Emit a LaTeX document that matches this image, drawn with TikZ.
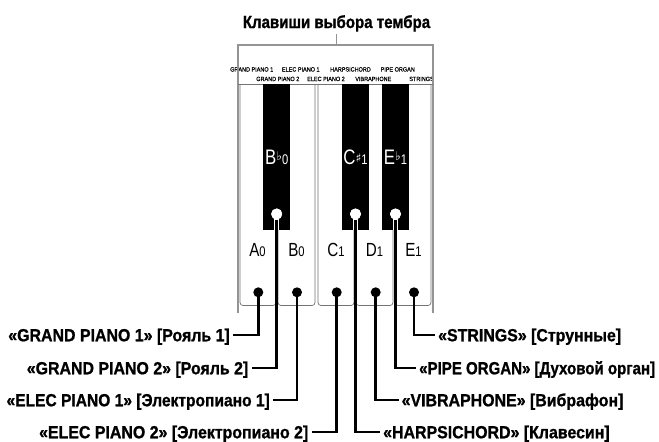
\documentclass[tikz,border=0pt]{standalone}
\usepackage{fontspec}
\setmainfont{Liberation Sans}
\newfontfamily\keyfont[FakeStretch=0.8]{Liberation Sans}
\newfontfamily\lblfont[UprightFont={* Bold},FakeStretch=0.91,FakeBold=1]{Liberation Sans}
\newfontfamily\lblfontm[UprightFont={* Bold},FakeStretch=0.89,FakeBold=1]{Liberation Sans}
\newfontfamily\lblfontn[UprightFont={* Bold},FakeStretch=0.86,FakeBold=1]{Liberation Sans}
\newfontfamily\smallfont[FakeStretch=0.9,FakeBold=0.4]{Liberation Sans}
\newfontfamily\symfont{DejaVu Sans}
\newcommand\kname[4]{{\keyfont\fontsize{#4}{#4}\selectfont #1}#2{\keyfont\fontsize{14}{14}\selectfont #3}}
\newcommand\flatsym{\raisebox{3.5pt}{\symfont\fontsize{12}{12}\selectfont ♭}}
\newcommand\sharpsym{\raisebox{1.5pt}{\symfont\fontsize{12}{12}\selectfont ♯}}
\begin{document}
\begin{tikzpicture}[x=1pt,y=-1pt,
  frame/.style={draw=black!42, line width=1.8pt},
  keyline/.style={draw=black!55, line width=0.7pt},
  conn/.style={draw=black, line width=2.8pt},
  halo/.style={draw=white, line width=5.5pt},
  dot/.style={circle, fill=black, minimum size=10pt, inner sep=0pt},
  hole/.style={circle, fill=white, minimum size=11pt, inner sep=0pt},
  lbl/.style={font=\lblfont\fontsize{17.5}{20}\selectfont, inner xsep=3pt, inner ysep=0pt, text height=12.5pt, text depth=0pt},
  lblm/.style={lbl, font=\lblfontm\fontsize{17.5}{20}\selectfont},
  lbln/.style={lbl, font=\lblfontn\fontsize{17.5}{20}\selectfont},
  small/.style={font=\smallfont\fontsize{6.1}{7}\selectfont, inner sep=0pt, anchor=base},
  keylbl/.style={inner sep=0pt, anchor=base},
  titlestyle/.style={font=\lblfontn\fontsize{17.5}{20}\selectfont, inner sep=2pt, anchor=base}
]
\useasboundingbox (0,0) rectangle (659,442);
\fill[white] (0,0) rectangle (659,442);

% title
\node[titlestyle] (title) at (336.5,28) {Клавиши выбора тембра};
\coordinate (tickb) at (336.5,45);

% small labels
\node[small] (s1) at (251.7,71.5) {GRAND PIANO 1};
\node[small] (s2) at (300.8,71.5) {ELEC PIANO 1};
\node[small] (s3) at (350.5,71.5) {HARPSICHORD};
\node[small] (s4) at (397.7,71.5) {PIPE ORGAN};
\node[small] (s5) at (277.8,81) {GRAND PIANO 2};
\node[small] (s6) at (326,81) {ELEC PIANO 2};
\node[small] (s7) at (373.3,81) {VIBRAPHONE};
\node[small] (s8) at (421.5,81) {STRINGS};

% frame
\draw[frame] (238,313) -- (238,45) -- (433,45) -- (433,313);
\draw[frame] (title.south) -- (tickb);

% white keys
\draw[keyline] (238,84) -- (433,84);
\draw[keyline, rounded corners=3pt] (240,84) -- (240,305.5) -- (276,305.5) -- (276,84);
\draw[keyline, rounded corners=3pt] (278,84) -- (278,305.5) -- (315,305.5) -- (315,84);
\draw[keyline, rounded corners=3pt] (318,84) -- (318,305.5) -- (354,305.5) -- (354,84);
\draw[keyline, rounded corners=3pt] (356,84) -- (356,305.5) -- (393,305.5) -- (393,84);
\draw[keyline, rounded corners=3pt] (395,84) -- (395,305.5) -- (431,305.5) -- (431,84);

% black keys
\fill[black] (263.3,84) rectangle (290,230);
\fill[black] (342.3,84) rectangle (369,230);
\fill[black] (382.3,84) rectangle (409,230);

% key labels
\node[keylbl, text=white] (kBb) at (276.7,164) {\kname{B}{\flatsym}{0}{21}};
\node[keylbl, text=white] (kCs) at (355.5,164) {\kname{C}{\sharpsym}{1}{21}};
\node[keylbl, text=white] (kEb) at (395.5,164) {\kname{E}{\flatsym}{1}{21}};
\node[keylbl] (kA) at (257.5,256) {\kname{A}{}{0}{19}};
\node[keylbl] (kB) at (296.5,256) {\kname{B}{}{0}{19}};
\node[keylbl] (kC) at (336,256) {\kname{C}{}{1}{19}};
\node[keylbl] (kD) at (374.5,256) {\kname{D}{}{1}{19}};
\node[keylbl] (kE) at (413.5,256) {\kname{E}{}{1}{19}};

% connection points
\node[hole] (hBb) at (276.7,214) {};
\node[hole] (hCs) at (355.5,214) {};
\node[hole] (hEb) at (395.5,214) {};
\coordinate (eBb) at (276.7,230);
\coordinate (eCs) at (355.5,230);
\coordinate (eEb) at (395.5,230);
\draw[halo] (hBb.center) -- (eBb);
\draw[halo] (hCs.center) -- (eCs);
\draw[halo] (hEb.center) -- (eEb);
\node[hole] at (hBb) {};
\node[hole] at (hCs) {};
\node[hole] at (hEb) {};

\node[dot] (dA) at (258.3,292.3) {};
\node[dot] (dB) at (297,292.3) {};
\node[dot] (dC) at (336.7,292.3) {};
\node[dot] (dD) at (375.7,292.3) {};
\node[dot] (dE) at (414,292.3) {};

% labels
\node[lbl, anchor=east] (gp1) at (233,335) {«GRAND PIANO 1» [Рояль 1]};
\node[lbl, anchor=east] (gp2) at (251.5,368) {«GRAND PIANO 2» [Рояль 2]};
\node[lblm, anchor=east] (ep1) at (273,400) {«ELEC PIANO 1» [Электропиано 1]};
\node[lbl, anchor=east] (ep2) at (311.5,432) {«ELEC PIANO 2» [Электропиано 2]};
\node[lbl, anchor=west] (harp) at (380,432) {«HARPSICHORD» [Клавесин]};
\node[lbl, anchor=west] (vib) at (398.5,400) {«VIBRAPHONE» [Вибрафон]};
\node[lbln, anchor=west] (pipe) at (416,368) {«PIPE ORGAN» [Духовой орган]};
\node[lbl, anchor=west] (str) at (435,335) {«STRINGS» [Струнные]};

% connectors
\draw[conn] (dA.center) |- (gp1.east);
\draw[conn] (hBb.south) |- (gp2.east);
\draw[conn] (dB.center) |- (ep1.east);
\draw[conn] (dC.center) |- (ep2.east);
\draw[conn] (hCs.south) |- (harp.west);
\draw[conn] (dD.center) |- (vib.west);
\draw[conn] (hEb.south) |- (pipe.west);
\draw[conn] (dE.center) |- (str.west);
\end{tikzpicture}
\end{document}
